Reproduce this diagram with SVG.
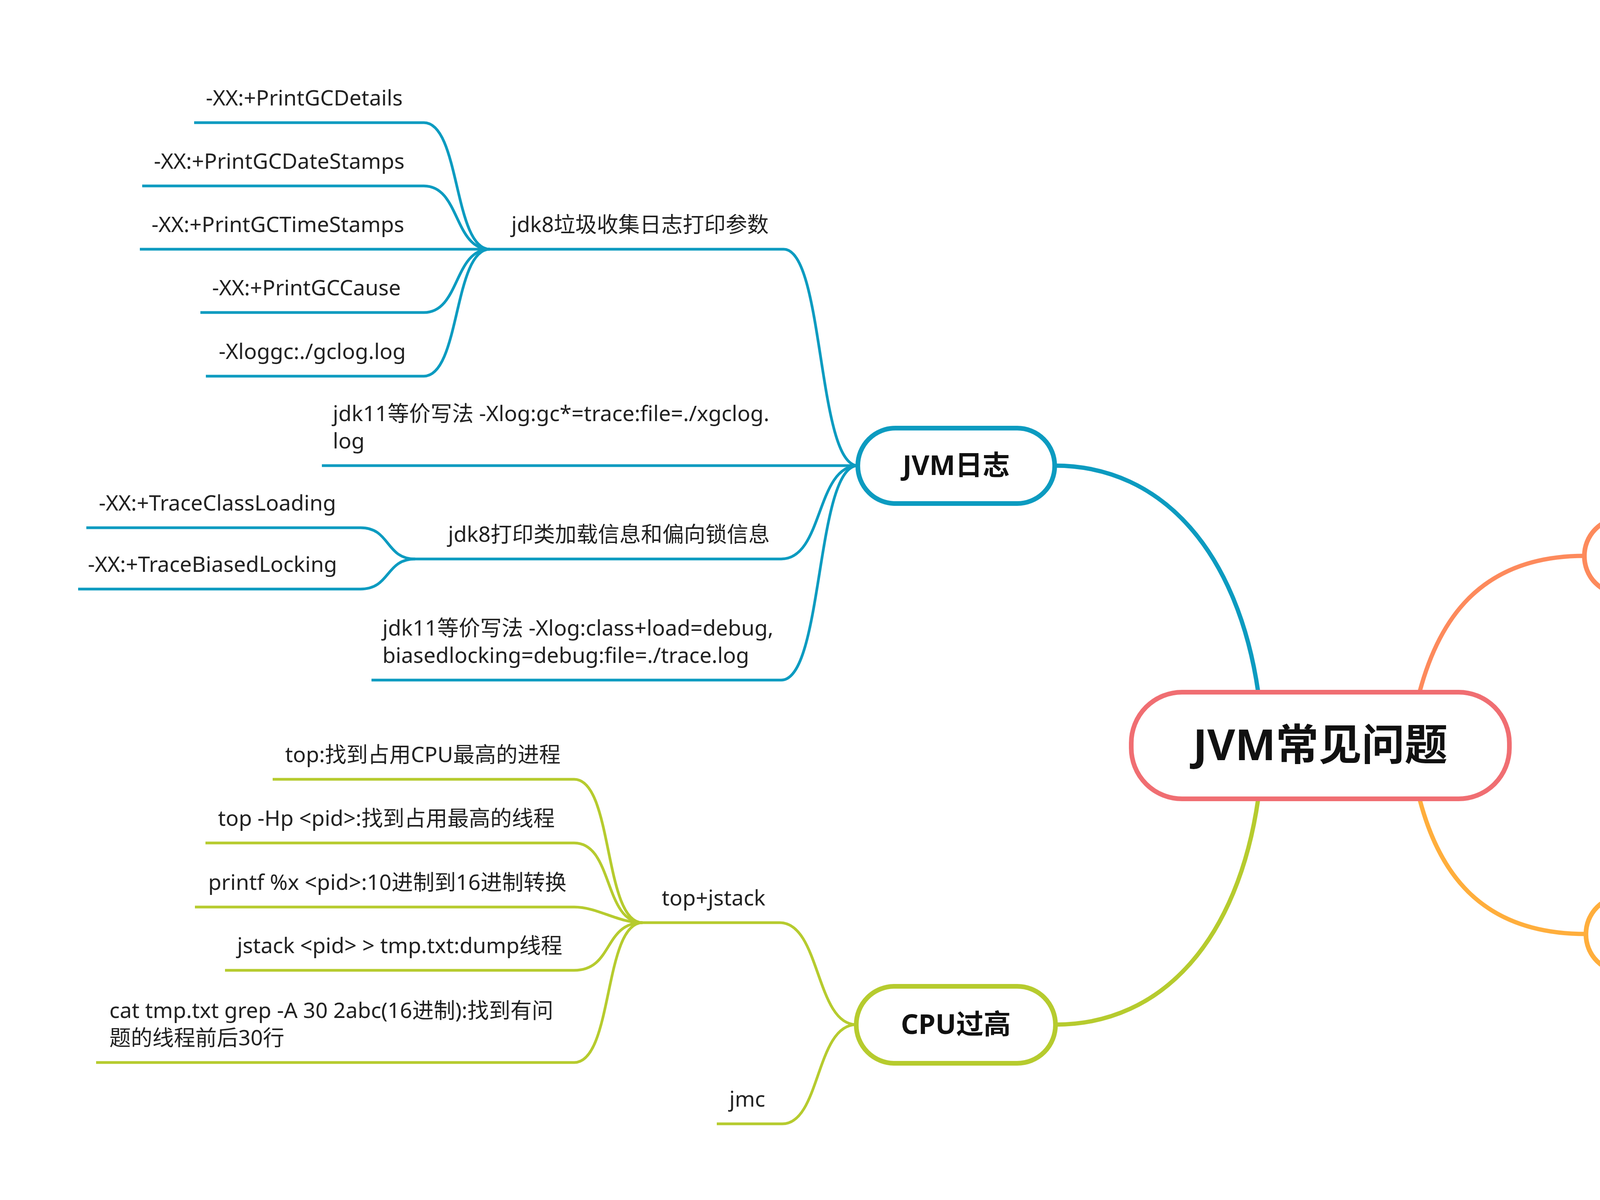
<svg xmlns="http://www.w3.org/2000/svg" width="6748" height="3072" viewBox="0 0 6748 3072">
<style>
text{font-family:"Noto Sans","Noto Sans CJK SC",sans-serif;fill:#222;}
.leaf{font-size:55px;}
.branch{font-size:70px;font-weight:bold;fill:#111;}
.root{font-size:110px;font-weight:bold;fill:#111;}
.ln{fill:none;stroke-width:7;stroke-linecap:butt;}
.main{fill:none;stroke-width:11;stroke-linecap:butt;}
.blue{stroke:#0C9BC0;}
.coral{stroke:#FD8A5C;}
.green{stroke:#B6CB2E;}
.amber{stroke:#FFAE3C;}
.box{fill:#fff;stroke-width:12;}
</style>
<rect width="6748" height="3072" fill="#fff"/>
<g id="connectors">
<path class="main blue" d="M2700,1192 C2980,1192 3170,1420 3221,1772"/>
<path class="main coral" d="M4056,1423 C3780,1423 3680,1600 3634,1772"/>
<path class="main green" d="M2702,2623 C2980,2623 3170,2400 3221,2045"/>
<path class="main amber" d="M4060,2391 C3780,2391 3680,2220 3634,2045"/>
<path class="ln blue" d="M497,314 H1085 C1178,314 1161,638 1254,638"/>
<path class="ln blue" d="M364,476 H1085 C1178,476 1161,638 1254,638"/>
<path class="ln blue" d="M358,638 H1254"/>
<path class="ln blue" d="M513,800 H1085 C1178,800 1161,638 1254,638"/>
<path class="ln blue" d="M527,963 H1085 C1178,963 1161,638 1254,638"/>
<path class="ln blue" d="M1254,638 H2006 C2110,638 2092,1192 2196,1192"/>
<path class="ln blue" d="M824,1192 H2196"/>
<path class="ln blue" d="M1063,1431 H2000 C2108,1431 2088,1192 2196,1192"/>
<path class="ln blue" d="M221,1351 H923 C1000,1351 986,1431 1063,1431"/>
<path class="ln blue" d="M200,1508 H923 C1000,1508 986,1431 1063,1431"/>
<path class="ln blue" d="M951,1741 H2000 C2108,1741 2088,1192 2196,1192"/>
<path class="ln coral" d="M4556,1423 C4700,1423 4690,830 4738,830 H5128"/>
<path class="ln coral" d="M5128,830 C5200,830 5190,749 5262,749 H5443"/>
<path class="ln coral" d="M5128,830 C5200,830 5190,912 5262,912 H5579"/>
<path class="ln coral" d="M4556,1423 C4700,1423 4690,1071 4738,1071 H5083"/>
<path class="ln coral" d="M4556,1423 C4700,1423 4690,1229 4738,1229 H5083"/>
<path class="ln coral" d="M4556,1423 C4700,1423 4690,1652 4738,1652 H5161"/>
<path class="ln coral" d="M5161,1652 C5260,1652 5270,1457 5310,1457 H6554"/>
<path class="ln coral" d="M5161,1652 C5230,1652 5250,1620 5310,1620 H6443"/>
<path class="ln coral" d="M5161,1652 C5260,1652 5270,1852 5310,1852 H6524"/>
<path class="ln coral" d="M4556,1423 C4700,1423 4690,2010 4738,2010 H5138"/>
<path class="ln amber" d="M4620,2391 C4740,2391 4750,2270 4789,2270 H6169"/>
<path class="ln amber" d="M4620,2391 C4740,2391 4750,2509 4789,2509 H5037"/>
<path class="ln amber" d="M5037,2509 C5130,2509 5140,2429 5180,2429 H6400"/>
<path class="ln amber" d="M5037,2509 C5130,2509 5140,2592 5180,2592 H6400"/>
<path class="ln green" d="M1645,2362 H1996 C2100,2362 2088,2623 2192,2623"/>
<path class="ln green" d="M1835,2877 H2003 C2100,2877 2088,2623 2192,2623"/>
<path class="ln green" d="M698,1995 H1470 C1570,1995 1545,2362 1645,2362"/>
<path class="ln green" d="M526,2158 H1470 C1570,2158 1545,2362 1645,2362"/>
<path class="ln green" d="M499,2322 H1470 C1530,2322 1580,2362 1645,2362"/>
<path class="ln green" d="M576,2484 H1470 C1570,2484 1545,2362 1645,2362"/>
<path class="ln green" d="M246,2720 H1470 C1570,2720 1545,2362 1645,2362"/>
</g>
<g id="root">
<rect class="box" x="2896" y="1772" width="968" height="273" rx="130" ry="130" stroke="#F06E72"/>
<text class="root" x="3380" y="1946" text-anchor="middle">JVM常见问题</text>
</g>
<g id="jvm-log">
<rect class="box" x="2196" y="1096" width="504" height="193" rx="96" stroke="#0C9BC0"/>
<text class="branch" x="2448" y="1216" text-anchor="middle">JVM日志</text>
</g>
<g id="oom">
<rect class="box" x="4056" y="1326" width="500" height="195" rx="97" stroke="#FD8A5C"/>
<text class="branch" x="4306" y="1447" text-anchor="middle">内存溢出</text>
</g>
<g id="cpu">
<rect class="box" x="2192" y="2525" width="510" height="197" rx="98" stroke="#B6CB2E"/>
<text class="branch" x="2447" y="2647" text-anchor="middle">CPU过高</text>
</g>
<g id="vis">
<rect class="box" x="4060" y="2294" width="560" height="195" rx="97" stroke="#FFAE3C"/>
<text class="branch" x="4340" y="2415" text-anchor="middle">可视化工具</text>
</g>
<g id="n-jdk8gc"><text class="leaf" x="1309" y="594">jdk8垃圾收集日志打印参数</text></g>
<g id="n-details"><text class="leaf" x="527" y="270">-XX:+PrintGCDetails</text></g>
<g id="n-datestamps"><text class="leaf" x="394" y="432">-XX:+PrintGCDateStamps</text></g>
<g id="n-timestamps"><text class="leaf" x="388" y="594">-XX:+PrintGCTimeStamps</text></g>
<g id="n-cause"><text class="leaf" x="543" y="756">-XX:+PrintGCCause</text></g>
<g id="n-xloggc"><text class="leaf" x="560" y="919">-Xloggc:./gclog.log</text></g>
<g id="n-jdk11gc"><text class="leaf" x="852" y="1078">jdk11等价写法 -Xlog:gc*=trace:file=./xgclog.</text><text class="leaf" x="852" y="1148">log</text></g>
<g id="n-jdk8class"><text class="leaf" x="1147" y="1387">jdk8打印类加载信息和偏向锁信息</text></g>
<g id="n-traceclass"><text class="leaf" x="253" y="1307">-XX:+TraceClassLoading</text></g>
<g id="n-tracebiased"><text class="leaf" x="225" y="1464">-XX:+TraceBiasedLocking</text></g>
<g id="n-jdk11class"><text class="leaf" x="979" y="1627">jdk11等价写法 -Xlog:class+load=debug,</text><text class="leaf" x="979" y="1697">biasedlocking=debug:file=./trace.log</text></g>
<g id="n-heap"><text class="leaf" x="4783" y="786">堆内存溢出</text></g>
<g id="n-mat"><text class="leaf" x="5318" y="705">mat</text></g>
<g id="n-visualvm"><text class="leaf" x="5318" y="868">VisualVM</text></g>
<g id="n-stack"><text class="leaf" x="4783" y="1027">栈内存溢出</text></g>
<g id="n-method"><text class="leaf" x="4783" y="1185">方法区溢出</text></g>
<g id="n-direct"><text class="leaf" x="4783" y="1608">直接内存溢出</text></g>
<g id="n-direct1"><text class="leaf" x="5373" y="1343">直接内存是一块由操作系统直接管理的内存,也叫</text><text class="leaf" x="5373" y="1413">堆外内存</text></g>
<g id="n-direct2"><text class="leaf" x="5373" y="1576">可以使用Unsafe或ByteBuffer分配直接内存</text></g>
<g id="n-direct3"><text class="leaf" x="5373" y="1738">可用-XX:MaxDirectMemorySize控制,默认是0,</text><text class="leaf" x="5373" y="1808">表示不限制</text></g>
<g id="n-codecache"><text class="leaf" x="4783" y="1966">代码缓存区满</text></g>
<g id="n-gclog"><text class="leaf" x="4853" y="2226">GC日志</text></g>
<g id="n-gceasy"><text class="leaf" x="5308" y="2226">GCEasy(https://www.gceasy.io/)</text></g>
<g id="n-thread"><text class="leaf" x="4853" y="2465">线程</text></g>
<g id="n-fastthread"><text class="leaf" x="5225" y="2385">fastThread(https://fastthread.io/ft-index.jsp)</text></g>
<g id="n-perma"><text class="leaf" x="5225" y="2548">PerMa(https://thread.console.heapdump.cn/)</text></g>
<g id="n-topjstack"><text class="leaf" x="1694" y="2318">top+jstack</text></g>
<g id="n-top"><text class="leaf" x="730" y="1951">top:找到占用CPU最高的进程</text></g>
<g id="n-tophp"><text class="leaf" x="558" y="2114">top -Hp &lt;pid&gt;:找到占用最高的线程</text></g>
<g id="n-printf"><text class="leaf" x="533" y="2278">printf %x &lt;pid&gt;:10进制到16进制转换</text></g>
<g id="n-jstack"><text class="leaf" x="607" y="2440">jstack &lt;pid&gt; &gt; tmp.txt:dump线程</text></g>
<g id="n-cat"><text class="leaf" x="280" y="2606">cat tmp.txt grep -A 30 2abc(16进制):找到有问</text><text class="leaf" x="280" y="2676">题的线程前后30行</text></g>
<g id="n-jmc"><text class="leaf" x="1867" y="2833">jmc</text></g>
</svg>
